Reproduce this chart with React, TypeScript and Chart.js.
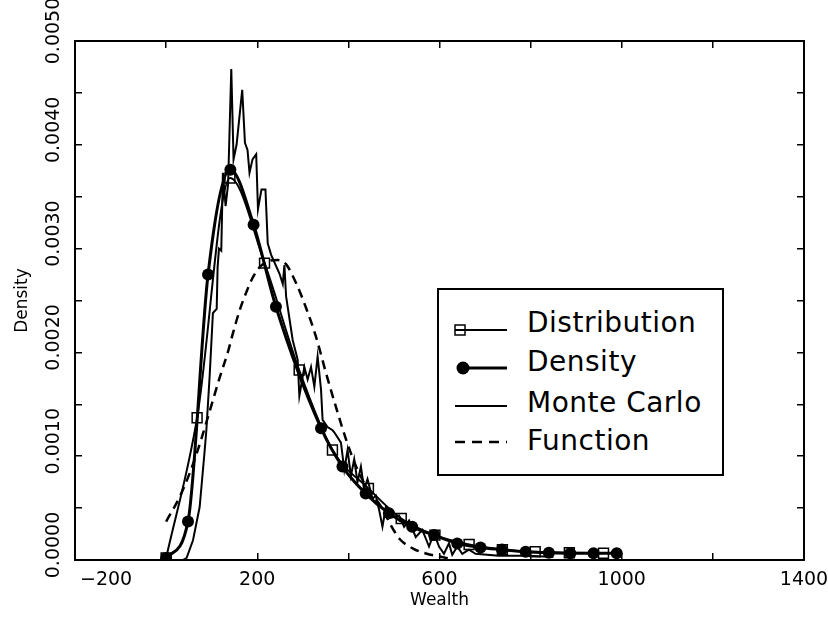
import React, { useEffect, useRef } from 'react';
import { Chart, registerables } from 'chart.js';

Chart.register(...registerables);

// ---- data (Wealth on x, Density on y) ----
const distributionX = [0, 68, 140, 216, 292, 365, 444, 516, 590, 665, 738, 810, 885, 960];
const distributionY = [0.00002, 0.00137, 0.00368, 0.00286, 0.00183, 0.00106, 0.00069, 0.0004, 0.00024, 0.00015, 0.0001, 0.00008, 0.00007, 0.000065];

const densityX = [0, 48, 92, 141, 192, 241, 340, 387, 438, 489, 540, 588, 639, 690, 737, 789, 840, 887, 938, 989];
const densityY = [0.00002, 0.00037, 0.00275, 0.00376, 0.00323, 0.00244, 0.00127, 0.0009, 0.00064, 0.00045, 0.00032, 0.00024, 0.00016, 0.00012, 0.0001, 0.00008, 0.00007, 0.000065, 0.000065, 0.000065];

const monteCarloX = [37, 45, 59, 73.6, 84.5, 88.3, 95.5, 102.7, 111, 113, 116, 121, 124.6, 130.5, 136, 143, 148, 154.6, 167, 173, 178.6, 183, 189.6, 197.7, 201.6, 209.3, 218, 223, 230.5, 248.7, 256, 259.6, 263.3, 277.8, 288.7, 292.4, 303.4, 310.6, 318, 325.3, 332.5, 340, 343.4, 354.4, 365.3, 369, 383.7, 391, 398.2, 405.6, 412.8, 420, 427.5, 434.7, 442, 453, 460.3, 467.6, 474.8, 482.2, 496.7, 511.3, 522.3, 533.2, 547.9, 562.3, 577, 588, 598.9, 609.8, 620.8, 628, 639, 650, 664.5, 679.2, 730, 796, 850];
const monteCarloY = [0, 0.00002, 0.00019, 0.00051, 0.00105, 0.00125, 0.00177, 0.00238, 0.00242, 0.00282, 0.003, 0.00298, 0.00373, 0.00341, 0.00362, 0.00473, 0.00386, 0.004, 0.00453, 0.00402, 0.00395, 0.00373, 0.00386, 0.00391, 0.00338, 0.00357, 0.00357, 0.00305, 0.00294, 0.00276, 0.00266, 0.00284, 0.00254, 0.00212, 0.00193, 0.00158, 0.00186, 0.00174, 0.00186, 0.00167, 0.00196, 0.00164, 0.00135, 0.00128, 0.00125, 0.00123, 0.00113, 0.00087, 0.00106, 0.00081, 0.00097, 0.00075, 0.0009, 0.00068, 0.00078, 0.00059, 0.00062, 0.00048, 0.00032, 0.00051, 0.00041, 0.00043, 0.00032, 0.00038, 0.00022, 0.00029, 0.00013, 0.00026, 0.00013, 0.00006, 0.00016, 0.00005, 0.00013, 0.00006, 0.0001, 0.00006, 0.00004, 0.00004, 0.00003];

const functionX = [0, 30, 52, 74, 96, 117, 136, 147, 161, 176, 190, 205, 225, 245, 263, 285, 307, 329, 351, 373, 395, 420, 446, 468, 499, 513, 542, 572, 594, 625];
const functionY = [0.00037, 0.00061, 0.00084, 0.00112, 0.00144, 0.00175, 0.00201, 0.00219, 0.0024, 0.00258, 0.00272, 0.00282, 0.00288, 0.00289, 0.00285, 0.00267, 0.00243, 0.00215, 0.0018, 0.00147, 0.00116, 0.00087, 0.00066, 0.00054, 0.00029, 0.0002, 0.00011, 0.00006, 0.00004, 0.00001];

const xMin = -200;
const xMax = 1400;
const xStep = 200;
const yMin = 0;
const yMax = 0.005;
const yStep = 0.0005;

const legendLabels = ['Distribution', 'Density', 'Monte Carlo', 'Function'];

const FONT = "'DejaVu Sans', sans-serif";
const TICK_LEN = -7;
const X_TICK_PAD = 16;
const Y_TICK_PAD = -5;
const TICK_FONT_SIZE = 19;

const pts = (xs: number[], ys: number[]) => xs.map((x, i) => ({ x, y: ys[i] }));

const fmtX = (v: number) => (v < 0 ? '\u2212' + Math.abs(v) : String(v));
const fmtY = (v: number) => v.toFixed(4);

// The first x label sits right of its tick and the top y label is nudged down
// (as in the original plot), so these two are drawn here from the scales.
const edgeLabelPlugin = {
  id: 'edgeLabels',
  afterDraw(chart: any) {
    const xs = chart.scales.x;
    const ys = chart.scales.y;
    const ctx = chart.ctx;
    ctx.save();
    ctx.font = `${TICK_FONT_SIZE}px ${FONT}`;
    ctx.fillStyle = '#000';
    ctx.textAlign = 'left';
    ctx.textBaseline = 'middle';
    const y = xs.top + TICK_LEN + X_TICK_PAD + (TICK_FONT_SIZE * 1.2) / 2;
    ctx.fillText(fmtX(xMin), xs.getPixelForValue(xMin) + 5, y);

    const topLabel = fmtY(yMax);
    const w = ctx.measureText(topLabel).width;
    const lx = ys.right - TICK_LEN - Y_TICK_PAD - w / 2;
    const ly = ys.getPixelForValue(yMax) - 10;
    ctx.translate(lx, ly);
    ctx.rotate(-Math.PI / 2);
    ctx.textAlign = 'center';
    ctx.fillText(topLabel, 0, 0);
    ctx.restore();
  },
};

export default function App() {
  const ref = useRef<HTMLCanvasElement>(null);

  useEffect(() => {
    if (!ref.current) return;
    Chart.defaults.font.family = FONT;
    Chart.defaults.color = '#000';
    const frameGrid = { drawOnChartArea: false, drawTicks: true, tickLength: TICK_LEN, color: '#000', lineWidth: 1.5 };
    const frameBorder = { display: true, color: '#000', width: 2 };
    const chart = new Chart(ref.current, {
      type: 'line',
      data: {
        datasets: [
          {
            label: legendLabels[0],
            data: pts(distributionX, distributionY),
            borderColor: '#000',
            borderWidth: 2,
            pointStyle: 'rect',
            pointRadius: 7,
            pointBorderWidth: 1.5,
            pointBorderColor: '#000',
            pointBackgroundColor: 'rgba(0,0,0,0)',
            cubicInterpolationMode: 'monotone',
            fill: false,
          },
          {
            label: legendLabels[1],
            data: pts(densityX, densityY),
            borderColor: '#000',
            borderWidth: 3,
            pointStyle: 'circle',
            pointRadius: 6,
            pointBorderWidth: 0,
            pointBackgroundColor: '#000',
            cubicInterpolationMode: 'monotone',
            fill: false,
          },
          {
            label: legendLabels[2],
            data: pts(monteCarloX, monteCarloY),
            borderColor: '#000',
            borderWidth: 2,
            pointRadius: 0,
            tension: 0,
            fill: false,
          },
          {
            label: legendLabels[3],
            data: pts(functionX, functionY),
            borderColor: '#000',
            borderWidth: 2.5,
            borderDash: [9, 6],
            pointRadius: 0,
            cubicInterpolationMode: 'monotone',
            fill: false,
          },
        ],
      },
      options: {
        responsive: false,
        animation: false,
        devicePixelRatio: 1,
        layout: { padding: { left: 8, top: 41, right: 24, bottom: 13 } },
        plugins: { legend: { display: false }, tooltip: { enabled: false } },
        scales: {
          x: {
            type: 'linear',
            position: 'bottom',
            min: xMin,
            max: xMax,
            ticks: {
              stepSize: xStep,
              autoSkip: false,
              maxRotation: 0,
              minRotation: 0,
              padding: X_TICK_PAD,
              font: { size: TICK_FONT_SIZE },
              color: (c: any) => (c.tick && c.tick.value === xMin ? 'rgba(0,0,0,0)' : '#000'),
              callback: (v: any) => ((Math.round(Number(v)) - xMin) % 400 === 0 ? fmtX(Math.round(Number(v))) : ''),
            },
            grid: frameGrid,
            border: frameBorder,
            title: { display: true, text: 'Wealth', font: { size: 17 }, color: '#000', padding: { top: 4, bottom: 4 } },
            afterFit: (s: any) => {
              s.height = 55;
              s.paddingLeft = 0;
              s.paddingRight = 0;
            },
          },
          y: {
            type: 'linear',
            position: 'left',
            min: yMin,
            max: yMax,
            ticks: {
              stepSize: yStep,
              autoSkip: false,
              minRotation: 90,
              maxRotation: 90,
              crossAlign: 'center',
              labelOffset: -15,
              padding: Y_TICK_PAD,
              font: { size: TICK_FONT_SIZE },
              color: (c: any) => (c.tick && Math.abs(c.tick.value - yMax) < 1e-9 ? 'rgba(0,0,0,0)' : '#000'),
              callback: (v: any) => (Math.round(Number(v) * 2000) % 2 === 0 ? fmtY(Number(v)) : ''),
            },
            grid: frameGrid,
            border: frameBorder,
            title: { display: true, text: 'Density', font: { size: 17 }, color: '#000', padding: { top: 4, bottom: 4 } },
            afterFit: (s: any) => {
              s.width = 67;
              s.paddingTop = 0;
              s.paddingBottom = 0;
            },
          },
          x2: {
            type: 'linear',
            position: 'top',
            min: xMin,
            max: xMax,
            ticks: { stepSize: xStep, display: false },
            grid: frameGrid,
            border: frameBorder,
            afterFit: (s: any) => {
              s.height = 0;
              s.paddingLeft = 0;
              s.paddingRight = 0;
            },
          },
          y2: {
            type: 'linear',
            position: 'right',
            min: yMin,
            max: yMax,
            ticks: { stepSize: yStep, display: false },
            grid: frameGrid,
            border: frameBorder,
            afterFit: (s: any) => {
              s.width = 0;
              s.paddingTop = 0;
              s.paddingBottom = 0;
            },
          },
        },
      } as any,
      plugins: [edgeLabelPlugin],
    });
    return () => chart.destroy();
  }, []);

  // legend geometry (page pixels)
  const box = { left: 437, top: 288, width: 287, height: 188, border: 2 };
  const ox = box.left + box.border;
  const oy = box.top + box.border;
  const textCenters = [323, 362, 403, 441];
  const lineYs = [330, 368, 406, 442];
  const lineX0 = 455;
  const lineX1 = 507;
  const textX = 527;

  return (
    <div style={{ position: 'fixed', left: 0, top: 0, width: 828, height: 628, background: '#fff' }}>
      <canvas ref={ref} width={828} height={628} style={{ display: 'block', width: 828, height: 628 }} />
      <div
        style={{
          position: 'absolute',
          left: box.left,
          top: box.top,
          width: box.width,
          height: box.height,
          border: `${box.border}px solid #000`,
          boxSizing: 'border-box',
          background: '#fff',
          fontFamily: FONT,
          fontSize: 28,
          letterSpacing: 0.5,
          color: '#000',
        }}
      >
        <svg
          width={box.width - 2 * box.border}
          height={box.height - 2 * box.border}
          style={{ position: 'absolute', left: 0, top: 0 }}
        >
          <line x1={lineX0 - ox} x2={lineX1 - ox} y1={lineYs[0] - oy} y2={lineYs[0] - oy} stroke="#000" strokeWidth={2} />
          <rect x={455 - ox} y={lineYs[0] - 5 - oy} width={10} height={10} fill="none" stroke="#000" strokeWidth={1.5} />
          <line x1={463 - ox} x2={lineX1 - ox} y1={lineYs[1] - oy} y2={lineYs[1] - oy} stroke="#000" strokeWidth={3} />
          <circle cx={463 - ox} cy={lineYs[1] - oy} r={6.5} fill="#000" />
          <line x1={lineX0 - ox} x2={lineX1 - ox} y1={lineYs[2] - oy} y2={lineYs[2] - oy} stroke="#000" strokeWidth={2} />
          <line x1={lineX0 - ox} x2={lineX1 - ox} y1={lineYs[3] - oy} y2={lineYs[3] - oy} stroke="#000" strokeWidth={2.5} strokeDasharray="10 7" />
        </svg>
        {legendLabels.map((label, i) => (
          <div
            key={label}
            style={{
              position: 'absolute',
              left: textX - ox,
              top: textCenters[i] - 19 - oy,
              height: 38,
              lineHeight: '38px',
              whiteSpace: 'nowrap',
            }}
          >
            {label}
          </div>
        ))}
      </div>
    </div>
  );
}
